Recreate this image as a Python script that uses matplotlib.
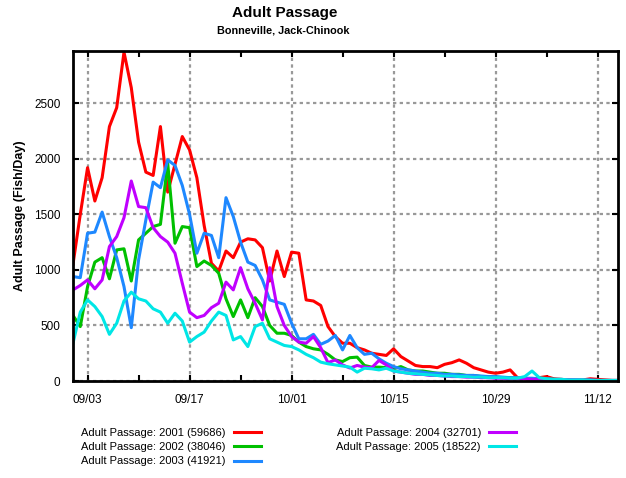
import matplotlib
matplotlib.use("Agg")
import matplotlib.pyplot as plt
import numpy as np

plt.rcParams['font.family'] = ['Liberation Sans', 'DejaVu Sans']

# daily counts, 09/01 .. 11/15
p2001 = [1050, 1500, 1920, 1620, 1830, 2290, 2460, 2960, 2640, 2150,
         1880, 1850, 2290, 1700, 1950, 2200, 2080, 1830, 1400, 1060,
         990, 1170, 1110, 1250, 1280, 1270, 1200, 900, 1170, 940,
         1160, 1150, 730, 720, 680, 490, 400, 340, 340, 300,
         280, 250, 240, 230, 290, 220, 180, 140, 130, 130,
         120, 150, 165, 190, 160, 120, 100, 80, 70, 80,
         100, 30, 20, 15, 30, 40, 20, 15, 10, 5,
         10, 20, 15, 10, 5, 5]
p2002 = [590, 490, 850, 1070, 1110, 920, 1180, 1190, 900, 1270,
         1330, 1390, 1410, 1960, 1240, 1390, 1380, 1030, 1080, 1040,
         970, 740, 580, 730, 570, 750, 670, 500, 430, 430,
         410, 350, 310, 290, 280, 240, 190, 175, 210, 215,
         140, 125, 125, 120, 110, 130, 100, 90, 90, 80,
         70, 70, 60, 60, 50, 50, 40, 40, 35, 30,
         30, 25, 25, 20, 20, 15, 15, 10, 10, 10,
         5, 5, 5, 5, 5, 5]
p2003 = [940, 930, 1330, 1340, 1520, 1300, 1110, 850, 480, 1090,
         1450, 1790, 1740, 1990, 1940, 1760, 1500, 1150, 1330, 1310,
         1110, 1650, 1480, 1250, 1070, 1040, 910, 730, 710, 690,
         520, 380, 380, 420, 330, 360, 410, 280, 410, 300,
         240, 250, 200, 160, 130, 110, 100, 90, 80, 70,
         70, 60, 60, 55, 50, 50, 45, 40, 40, 35,
         30, 30, 25, 25, 20, 20, 15, 15, 10, 10,
         10, 10, 5, 5, 5, 5]
p2004 = [820, 860, 910, 830, 910, 1210, 1300, 1470, 1800, 1570,
         1560, 1380, 1300, 1250, 1150, 880, 620, 570, 590, 660,
         700, 890, 820, 1020, 830, 700, 550, 1020, 670, 500,
         400, 350, 340, 400, 300, 165, 190, 145, 117, 140,
         125, 120, 185, 145, 90, 80, 70, 60, 60, 50,
         50, 45, 40, 40, 35, 35, 30, 30, 25, 25,
         20, 20, 20, 15, 15, 15, 10, 10, 10, 10,
         5, 5, 5, 5, 5, 5]
p2005 = [340, 620, 730, 670, 580, 420, 520, 720, 800, 740,
         720, 650, 620, 520, 610, 540, 350, 400, 440, 540,
         620, 590, 370, 400, 310, 490, 520, 380, 350, 320,
         310, 280, 240, 210, 170, 155, 145, 135, 125, 80,
         115, 110, 100, 115, 90, 80, 70, 65, 60, 55,
         50, 45, 45, 40, 40, 35, 35, 30, 30, 30,
         25, 25, 40, 90, 30, 20, 15, 15, 10, 10,
         10, 5, 5, 5, 5, 5]

labels = ['Adult Passage: 2001 (59686)', 'Adult Passage: 2002 (38046)',
          'Adult Passage: 2003 (41921)', 'Adult Passage: 2004 (32701)',
          'Adult Passage: 2005 (18522)']
colors = ['#ff0000', '#00c000', '#1e88ff', '#c000ff', '#00e6e6']
series = [p2001, p2002, p2003, p2004, p2005]

tick_days = [2, 16, 30, 44, 58, 72]
tick_labels = ['09/03', '09/17', '10/01', '10/15', '10/29', '11/12']
minor_days = [9, 23, 37, 51, 65]

fig = plt.figure(figsize=(6.26, 4.78), dpi=100)
ax = fig.add_axes([0.1166, 0.2029, 0.8706, 0.6904])

days = np.arange(len(p2001))
for vals, c, lab in zip(series, colors, labels):
    ax.plot(days, vals, color=c, lw=2.2, label=lab, solid_joinstyle='round')

ax.set_xlim(0, 74.8)
ax.set_ylim(0, 2970)
ax.set_xticks(tick_days)
ax.set_xticklabels(tick_labels)
ax.set_xticks(minor_days, minor=True)
ax.set_yticks(np.arange(0, 2501, 500))
ax.tick_params(axis='both', which='both', direction='in', top=True, right=True,
               length=4, width=1.5, labelsize=8.5, pad=9)
ax.grid(True, which='major', color='#999999', ls=(0, (1.5, 1.5)), lw=1.6)
for s in ax.spines.values():
    s.set_linewidth(2)

ax.set_ylabel('Adult Passage (Fish/Day)', fontsize=9, fontweight='bold', labelpad=6)

fig.text(0.455, 0.972, 'Adult Passage', ha='center', va='center',
         fontsize=11, fontweight='bold')
fig.text(0.452, 0.936, 'Bonneville, Jack-Chinook', ha='center', va='center',
         fontsize=7.8, fontweight='bold')

fig.legend(loc='upper left', bbox_to_anchor=(0.123, 0.114), ncol=2,
           frameon=False, fontsize=8, markerfirst=False, handlelength=2.4,
           columnspacing=6.8, labelspacing=0.38, handletextpad=0.75,
           borderaxespad=0)

fig.savefig('out.png', dpi=100)
